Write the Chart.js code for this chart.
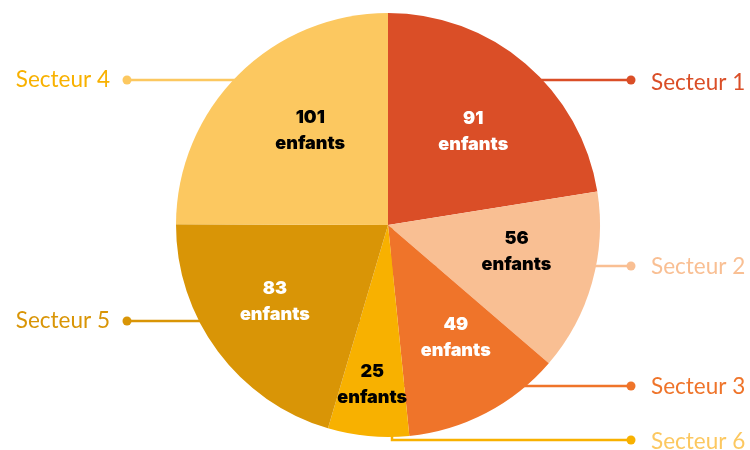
<!DOCTYPE html>
<html><head><meta charset="utf-8">
<script src="https://cdn.jsdelivr.net/npm/chart.js@4/dist/chart.umd.min.js"></script>
<style>html,body{margin:0;padding:0;background:#fff}#w{width:750px;height:450px}</style>
</head><body><div id="w"><canvas id="c"></canvas></div>
<script>
const categories = ["Secteur 1","Secteur 2","Secteur 3","Secteur 6","Secteur 5","Secteur 4"];
const values = [91,56,49,25,83,101];
const unitLabel = "enfants";
const sliceColors = ["#DA4E27","#F9BF93","#EF742A","#F8B100","#D99506","#FCC860"];
const legendTextColors = ["#DA4E27","#F9BF93","#EF742A","#FCC860","#D99506","#F8B100"];
const valueTextColors = ["#ffffff","#000000","#ffffff","#000000","#ffffff","#000000"];

// annotation layout (styles/positions)
const leaders = [
  {side:"right", y:80,  dotX:631, textX:651, textY:83},
  {side:"right", y:266, dotX:631, textX:651, textY:267},
  {side:"right", y:386, dotX:631, textX:651, textY:387},
  {side:"right", y:440, dotX:631, textX:651, textY:442, vx:392},
  {side:"left",  y:321, dotX:127, textX:110, textY:321},
  {side:"left",  y:80,  dotX:127, textX:110, textY:80}
];
const labelRadius = [0.62,0.62,0.63,0.75,0.63,0.6];
const labelNudge = [[0,7],[2,-9],[6,-6],[-1,1],[-6,-3],[12,-4]];

const leaderPlugin = {
  id:"leaders",
  beforeDatasetsDraw(chart){
    const ctx = chart.ctx;
    const arc = chart.getDatasetMeta(0).data[0];
    const cx = arc.x, cy = arc.y;
    ctx.save();
    leaders.forEach((l,i)=>{
      const col = sliceColors[i];
      ctx.strokeStyle = col; ctx.lineWidth = 2.5; ctx.lineCap="butt";
      ctx.beginPath();
      if (l.vx !== undefined){
        ctx.moveTo(l.vx, cy); ctx.lineTo(l.vx, l.y); ctx.lineTo(l.dotX, l.y);
      } else {
        ctx.moveTo(cx, l.y); ctx.lineTo(l.dotX, l.y);
      }
      ctx.stroke();
      ctx.fillStyle = col;
      ctx.beginPath(); ctx.arc(l.dotX, l.y, 4.5, 0, Math.PI*2); ctx.fill();
      ctx.fillStyle = legendTextColors[i];
      ctx.font = "400 22.5px Lato";
      ctx.textBaseline = "middle";
      ctx.textAlign = l.side === "right" ? "left" : "right";
      ctx.fillText(categories[i], l.textX, l.textY);
    });
    ctx.restore();
  },
  afterDatasetsDraw(chart){
    const ctx = chart.ctx;
    const meta = chart.getDatasetMeta(0);
    ctx.save();
    ctx.font = "900 18px Inter";
    ctx.textAlign = "center"; ctx.textBaseline = "middle";
    meta.data.forEach((a,i)=>{
      const mid = (a.startAngle + a.endAngle)/2;
      const r = a.outerRadius * labelRadius[i];
      const x = a.x + Math.cos(mid)*r + labelNudge[i][0];
      const y = a.y + Math.sin(mid)*r + labelNudge[i][1];
      ctx.fillStyle = valueTextColors[i];
      ctx.fillText(String(values[i]), x, y-13);
      ctx.fillText(unitLabel, x, y+13);
    });
    ctx.restore();
  }
};

new Chart(document.getElementById("c"), {
  type:"pie",
  data:{ labels:categories, datasets:[{ data:values, backgroundColor:sliceColors, borderWidth:0, hoverOffset:0 }]},
  options:{
    responsive:true, maintainAspectRatio:false, animation:false,
    layout:{ padding:{ left:176, right:150, top:13, bottom:13 } },
    plugins:{ legend:{display:false}, tooltip:{enabled:false} }
  },
  plugins:[leaderPlugin]
});
</script></body></html>
